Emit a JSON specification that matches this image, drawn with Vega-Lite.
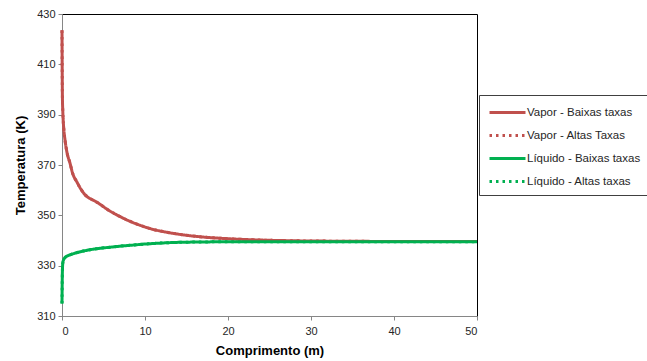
{
  "$schema": "https://vega.github.io/schema/vega-lite/v6.json",
  "width": 415,
  "height": 302,
  "autosize": "none",
  "padding": {"left": 62, "top": 14, "right": 170, "bottom": 45},
  "background": "white",
  "config": {
    "font": "Liberation Sans",
    "view": {"stroke": "#000000", "strokeWidth": 1},
    "axis": {
      "grid": false,
      "domainColor": "#868686",
      "tickColor": "#868686",
      "tickSize": 4,
      "labelFont": "Liberation Sans",
      "labelFontSize": 11,
      "labelColor": "#262626",
      "titleFont": "Liberation Sans",
      "titleFontSize": 13,
      "titleFontWeight": "bold",
      "titleColor": "#000000"
    }
  },
  "datasets": {
    "curvas": [
      {"serie": "Vapor - Baixas taxas", "x": 0, "T": 423.5},
      {"serie": "Vapor - Baixas taxas", "x": 0.02, "T": 410},
      {"serie": "Vapor - Baixas taxas", "x": 0.05, "T": 397},
      {"serie": "Vapor - Baixas taxas", "x": 0.1, "T": 391},
      {"serie": "Vapor - Baixas taxas", "x": 0.2, "T": 385},
      {"serie": "Vapor - Baixas taxas", "x": 0.36, "T": 380},
      {"serie": "Vapor - Baixas taxas", "x": 0.6, "T": 375},
      {"serie": "Vapor - Baixas taxas", "x": 0.96, "T": 370.8},
      {"serie": "Vapor - Baixas taxas", "x": 1.3, "T": 366.5},
      {"serie": "Vapor - Baixas taxas", "x": 1.77, "T": 363.4},
      {"serie": "Vapor - Baixas taxas", "x": 2.3, "T": 360.3},
      {"serie": "Vapor - Baixas taxas", "x": 2.77, "T": 358.2},
      {"serie": "Vapor - Baixas taxas", "x": 3.3, "T": 356.8},
      {"serie": "Vapor - Baixas taxas", "x": 3.77, "T": 356.0},
      {"serie": "Vapor - Baixas taxas", "x": 4.2, "T": 355.2},
      {"serie": "Vapor - Baixas taxas", "x": 4.58, "T": 354.4},
      {"serie": "Vapor - Baixas taxas", "x": 5.3, "T": 352.7},
      {"serie": "Vapor - Baixas taxas", "x": 6.2, "T": 350.9},
      {"serie": "Vapor - Baixas taxas", "x": 7, "T": 349.5},
      {"serie": "Vapor - Baixas taxas", "x": 7.8, "T": 348.2},
      {"serie": "Vapor - Baixas taxas", "x": 8.8, "T": 346.8},
      {"serie": "Vapor - Baixas taxas", "x": 9.8, "T": 345.6},
      {"serie": "Vapor - Baixas taxas", "x": 11, "T": 344.4},
      {"serie": "Vapor - Baixas taxas", "x": 12.6, "T": 343.3},
      {"serie": "Vapor - Baixas taxas", "x": 14.5, "T": 342.3},
      {"serie": "Vapor - Baixas taxas", "x": 16.6, "T": 341.5},
      {"serie": "Vapor - Baixas taxas", "x": 19, "T": 340.9},
      {"serie": "Vapor - Baixas taxas", "x": 22, "T": 340.4},
      {"serie": "Vapor - Baixas taxas", "x": 26, "T": 340.0},
      {"serie": "Vapor - Baixas taxas", "x": 30, "T": 339.8},
      {"serie": "Vapor - Baixas taxas", "x": 35, "T": 339.7},
      {"serie": "Vapor - Baixas taxas", "x": 40, "T": 339.6},
      {"serie": "Vapor - Baixas taxas", "x": 45, "T": 339.6},
      {"serie": "Vapor - Baixas taxas", "x": 50, "T": 339.6},

      {"serie": "Vapor - Altas Taxas", "x": 0, "T": 423.5},
      {"serie": "Vapor - Altas Taxas", "x": 0.02, "T": 410},
      {"serie": "Vapor - Altas Taxas", "x": 0.05, "T": 397},
      {"serie": "Vapor - Altas Taxas", "x": 0.1, "T": 391},
      {"serie": "Vapor - Altas Taxas", "x": 0.2, "T": 385},
      {"serie": "Vapor - Altas Taxas", "x": 0.36, "T": 380},
      {"serie": "Vapor - Altas Taxas", "x": 0.6, "T": 375},
      {"serie": "Vapor - Altas Taxas", "x": 0.96, "T": 370.8},
      {"serie": "Vapor - Altas Taxas", "x": 1.3, "T": 366.5},
      {"serie": "Vapor - Altas Taxas", "x": 1.77, "T": 363.4},
      {"serie": "Vapor - Altas Taxas", "x": 2.3, "T": 360.3},
      {"serie": "Vapor - Altas Taxas", "x": 2.77, "T": 358.2},
      {"serie": "Vapor - Altas Taxas", "x": 3.3, "T": 356.8},
      {"serie": "Vapor - Altas Taxas", "x": 3.77, "T": 356.0},
      {"serie": "Vapor - Altas Taxas", "x": 4.2, "T": 355.2},
      {"serie": "Vapor - Altas Taxas", "x": 4.58, "T": 354.4},
      {"serie": "Vapor - Altas Taxas", "x": 5.3, "T": 352.7},
      {"serie": "Vapor - Altas Taxas", "x": 6.2, "T": 350.9},
      {"serie": "Vapor - Altas Taxas", "x": 7, "T": 349.5},
      {"serie": "Vapor - Altas Taxas", "x": 7.8, "T": 348.2},
      {"serie": "Vapor - Altas Taxas", "x": 8.8, "T": 346.8},
      {"serie": "Vapor - Altas Taxas", "x": 9.8, "T": 345.6},
      {"serie": "Vapor - Altas Taxas", "x": 11, "T": 344.4},
      {"serie": "Vapor - Altas Taxas", "x": 12.6, "T": 343.3},
      {"serie": "Vapor - Altas Taxas", "x": 14.5, "T": 342.3},
      {"serie": "Vapor - Altas Taxas", "x": 16.6, "T": 341.5},
      {"serie": "Vapor - Altas Taxas", "x": 19, "T": 340.9},
      {"serie": "Vapor - Altas Taxas", "x": 22, "T": 340.4},
      {"serie": "Vapor - Altas Taxas", "x": 26, "T": 340.0},
      {"serie": "Vapor - Altas Taxas", "x": 30, "T": 339.8},
      {"serie": "Vapor - Altas Taxas", "x": 35, "T": 339.7},
      {"serie": "Vapor - Altas Taxas", "x": 40, "T": 339.6},
      {"serie": "Vapor - Altas Taxas", "x": 45, "T": 339.6},
      {"serie": "Vapor - Altas Taxas", "x": 50, "T": 339.6},

      {"serie": "Líquido - Baixas taxas", "x": 0, "T": 315},
      {"serie": "Líquido - Baixas taxas", "x": 0.02, "T": 322},
      {"serie": "Líquido - Baixas taxas", "x": 0.05, "T": 328},
      {"serie": "Líquido - Baixas taxas", "x": 0.1, "T": 331.2},
      {"serie": "Líquido - Baixas taxas", "x": 0.2, "T": 332.4},
      {"serie": "Líquido - Baixas taxas", "x": 0.36, "T": 333.2},
      {"serie": "Líquido - Baixas taxas", "x": 0.6, "T": 333.8},
      {"serie": "Líquido - Baixas taxas", "x": 0.96, "T": 334.3},
      {"serie": "Líquido - Baixas taxas", "x": 1.6, "T": 335.0},
      {"serie": "Líquido - Baixas taxas", "x": 2.57, "T": 335.8},
      {"serie": "Líquido - Baixas taxas", "x": 3.5, "T": 336.4},
      {"serie": "Líquido - Baixas taxas", "x": 4.58, "T": 336.9},
      {"serie": "Líquido - Baixas taxas", "x": 6, "T": 337.4},
      {"serie": "Líquido - Baixas taxas", "x": 7.5, "T": 337.9},
      {"serie": "Líquido - Baixas taxas", "x": 8.6, "T": 338.2},
      {"serie": "Líquido - Baixas taxas", "x": 10, "T": 338.6},
      {"serie": "Líquido - Baixas taxas", "x": 11.5, "T": 338.9},
      {"serie": "Líquido - Baixas taxas", "x": 12.6, "T": 339.1},
      {"serie": "Líquido - Baixas taxas", "x": 14.5, "T": 339.3},
      {"serie": "Líquido - Baixas taxas", "x": 16.6, "T": 339.4},
      {"serie": "Líquido - Baixas taxas", "x": 20, "T": 339.5},
      {"serie": "Líquido - Baixas taxas", "x": 30, "T": 339.5},
      {"serie": "Líquido - Baixas taxas", "x": 40, "T": 339.5},
      {"serie": "Líquido - Baixas taxas", "x": 50, "T": 339.5},

      {"serie": "Líquido - Altas taxas", "x": 0, "T": 315},
      {"serie": "Líquido - Altas taxas", "x": 0.02, "T": 322},
      {"serie": "Líquido - Altas taxas", "x": 0.05, "T": 328},
      {"serie": "Líquido - Altas taxas", "x": 0.1, "T": 331.2},
      {"serie": "Líquido - Altas taxas", "x": 0.2, "T": 332.4},
      {"serie": "Líquido - Altas taxas", "x": 0.36, "T": 333.2},
      {"serie": "Líquido - Altas taxas", "x": 0.6, "T": 333.8},
      {"serie": "Líquido - Altas taxas", "x": 0.96, "T": 334.3},
      {"serie": "Líquido - Altas taxas", "x": 1.6, "T": 335.0},
      {"serie": "Líquido - Altas taxas", "x": 2.57, "T": 335.8},
      {"serie": "Líquido - Altas taxas", "x": 3.5, "T": 336.4},
      {"serie": "Líquido - Altas taxas", "x": 4.58, "T": 336.9},
      {"serie": "Líquido - Altas taxas", "x": 6, "T": 337.4},
      {"serie": "Líquido - Altas taxas", "x": 7.5, "T": 337.9},
      {"serie": "Líquido - Altas taxas", "x": 8.6, "T": 338.2},
      {"serie": "Líquido - Altas taxas", "x": 10, "T": 338.6},
      {"serie": "Líquido - Altas taxas", "x": 11.5, "T": 338.9},
      {"serie": "Líquido - Altas taxas", "x": 12.6, "T": 339.1},
      {"serie": "Líquido - Altas taxas", "x": 14.5, "T": 339.3},
      {"serie": "Líquido - Altas taxas", "x": 16.6, "T": 339.4},
      {"serie": "Líquido - Altas taxas", "x": 20, "T": 339.5},
      {"serie": "Líquido - Altas taxas", "x": 30, "T": 339.5},
      {"serie": "Líquido - Altas taxas", "x": 40, "T": 339.5},
      {"serie": "Líquido - Altas taxas", "x": 50, "T": 339.5}
    ]
  },
  "data": {"name": "curvas"},
  "encoding": {
    "x": {
      "field": "x",
      "type": "quantitative",
      "title": "Comprimento (m)",
      "scale": {"domain": [0, 50], "nice": false, "zero": false},
      "axis": {"values": [0, 10, 20, 30, 40, 50], "labelPadding": 5, "titlePadding": 8}
    },
    "y": {
      "field": "T",
      "type": "quantitative",
      "title": "Temperatura (K)",
      "scale": {"domain": [310, 430], "nice": false, "zero": false},
      "axis": {"values": [310, 330, 350, 370, 390, 410, 430], "labelPadding": 3, "titlePadding": 9}
    },
    "color": {
      "field": "serie",
      "type": "nominal",
      "scale": {
        "domain": ["Vapor - Baixas taxas", "Vapor - Altas Taxas", "Líquido - Baixas taxas", "Líquido - Altas taxas"],
        "range": ["#C0504D", "#C0504D", "#00B050", "#00B050"]
      },
      "legend": {
        "title": null,
        "orient": "none",
        "legendX": 417,
        "legendY": 81,
        "symbolType": "M-2,0H2",
        "symbolSize": 324,
        "symbolOffset": 11,
        "symbolStrokeWidth": 3,
        "labelFont": "Liberation Sans",
        "labelFontSize": 11.5,
        "labelColor": "#262626",
        "labelOffset": 9,
        "rowPadding": 6,
        "padding": 7,
        "strokeColor": "#404040",
        "fillColor": "white"
      }
    },
    "strokeDash": {
      "field": "serie",
      "type": "nominal",
      "scale": {
        "domain": ["Vapor - Baixas taxas", "Vapor - Altas Taxas", "Líquido - Baixas taxas", "Líquido - Altas taxas"],
        "range": [[1, 0], [2.5, 4], [1, 0], [2.5, 4]]
      },
      "legend": null
    }
  },
  "layer": [
    {
      "transform": [{"filter": "indexof(datum.serie, 'Altas') >= 0"}],
      "mark": {"type": "line", "strokeWidth": 3, "interpolate": "monotone"}
    },
    {
      "transform": [{"filter": "indexof(datum.serie, 'Baixas') >= 0"}],
      "mark": {"type": "line", "strokeWidth": 3, "interpolate": "monotone"}
    }
  ]
}
